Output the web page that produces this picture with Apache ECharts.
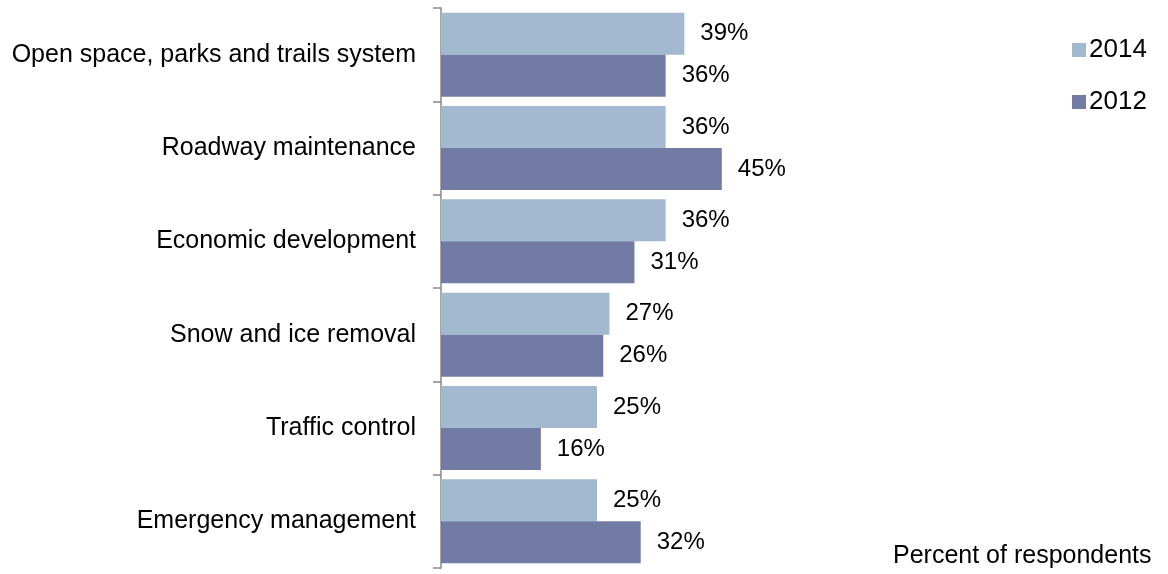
<!DOCTYPE html>
<html><head><meta charset="utf-8">
<script src="https://cdn.jsdelivr.net/npm/echarts@6/dist/echarts.min.js"></script>
<style>html,body{margin:0;padding:0;background:#fff}#c{width:1168px;height:574px}</style>
</head><body><div id="c"></div>
<script>
var categories = ["Open space, parks and trails system","Roadway maintenance","Economic development","Snow and ice removal","Traffic control","Emergency management"];
var values2014 = [39,36,36,27,25,25];
var values2012 = [36,45,31,26,16,32];
var seriesNames = ["2014","2012"];
var FONT = "Liberation Sans";
var chart = echarts.init(document.getElementById('c'));
var lbl = {show:true, position:'right', distance:16, formatter:'{c}%', color:'#000', fontSize:24, fontFamily:FONT};
chart.setOption({
  animation:false,
  grid:{left:441, top:8, width:624, height:560, containLabel:false},
  legend:{orient:'vertical', left:1067, top:32, itemWidth:14, itemHeight:14, itemGap:26, icon:'rect',
    textStyle:{fontSize:26, lineHeight:26, fontFamily:FONT, color:'#000', padding:[0,0,0,-2]}, data:seriesNames},
  xAxis:{type:'value', min:0, max:100, show:false},
  yAxis:{type:'category', inverse:true, data:categories,
    axisLine:{lineStyle:{color:'#888', width:1.5}},
    axisTick:{show:true, length:8, lineStyle:{color:'#888', width:1.5}},
    axisLabel:{fontSize:25, fontFamily:FONT, color:'#000', margin:25}},
  series:[
    {name:seriesNames[0], type:'bar', data:values2014, barGap:'0%', barCategoryGap:'10%', itemStyle:{color:'#A3B9CF'}, label:lbl},
    {name:seriesNames[1], type:'bar', data:values2012, itemStyle:{color:'#727BA3'}, label:lbl}
  ],
  graphic:[{type:'text', left:893, top:544, style:{text:'Percent of respondents', fontSize:25, fontFamily:FONT, fill:'#000'}}]
});
</script></body></html>
